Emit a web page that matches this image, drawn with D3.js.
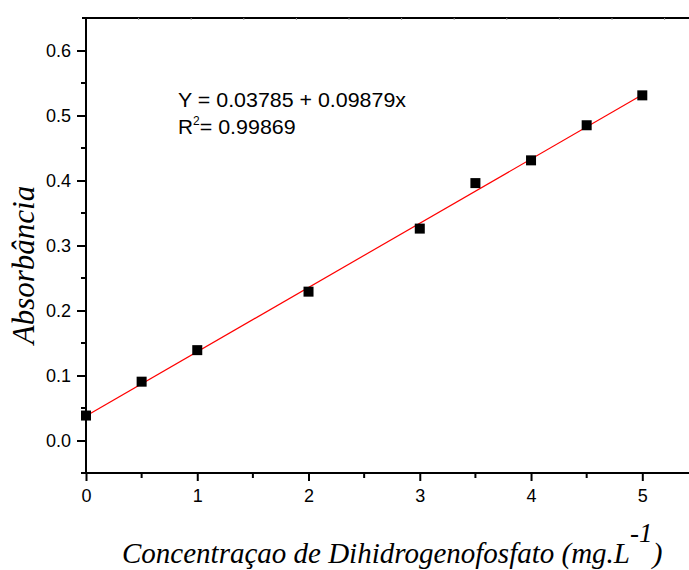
<!DOCTYPE html>
<html><head><meta charset="utf-8">
<script src="https://cdn.jsdelivr.net/npm/d3@7"></script>
<style>body{margin:0;background:#fff}svg{display:block}</style>
</head><body>
<script>
const concentration = [0, 0.5, 1, 2, 3, 3.5, 4, 4.5, 5];
const absorbance = [0.0384, 0.0905, 0.139, 0.229, 0.326, 0.396, 0.431, 0.485, 0.531];
const fitIntercept = 0.03785, fitSlope = 0.09879;
const xTicks = [0, 1, 2, 3, 4, 5];
const xMinorTicks = [0.5, 1.5, 2.5, 3.5, 4.5];
const yTicks = [0.0, 0.1, 0.2, 0.3, 0.4, 0.5, 0.6];
const yMinorTicks = [-0.05, 0.05, 0.15, 0.25, 0.35, 0.45, 0.55];
const topTicks = [1,2,3,4,5,6,7,8,9,10,11];
const equationText = "Y = 0.03785 + 0.09879x";
const r2Value = "= 0.99869";
const xTitle = "Concentraçao de Dihidrogenofosfato (mg.L";
const yTitle = "Absorbância";

const W = 689, H = 570;
const mLeft = 86, mTop = 18, mBottom = 473, mRight = 720;
const svg = d3.select("body").append("svg").attr("width", W).attr("height", H);

const x = d3.scaleLinear().domain([0, 5]).range([mLeft, 642.3]);
const y = d3.scaleLinear().domain([-0.05, 0.65]).range([mBottom, mTop]);
const xTop = d3.scaleLinear().domain([0, 1]).range([mLeft, mLeft + 52.6]);

// top frame line with faint ticks
svg.append("line").attr("x1", mLeft - 4).attr("x2", mRight).attr("y1", mTop).attr("y2", mTop)
  .attr("stroke", "#000").attr("stroke-width", 2);
svg.append("g").selectAll("line").data(topTicks).join("line")
  .attr("x1", d => xTop(d)).attr("x2", d => xTop(d)).attr("y1", mTop).attr("y2", mTop + 2)
  .attr("stroke", "#999").attr("stroke-width", 1);

// bottom axis
const xAxis = d3.axisBottom(x).tickValues(xTicks).tickFormat(d3.format("d")).tickSize(8).tickSizeOuter(0);
const gx = svg.append("g").attr("transform", `translate(0,${mBottom})`).call(xAxis);
gx.select(".domain").remove();
gx.selectAll(".tick line").attr("stroke-width", 2);
gx.selectAll(".tick text").attr("font-family", "Liberation Sans, Arial, sans-serif").attr("font-size", 18).attr("dy", "1.0em").attr("fill", "#000");
svg.append("g").selectAll("line").data(xMinorTicks).join("line")
  .attr("x1", d => x(d)).attr("x2", d => x(d)).attr("y1", mBottom).attr("y2", mBottom + 5)
  .attr("stroke", "#000").attr("stroke-width", 2);
svg.append("line").attr("x1", mLeft - 1).attr("x2", mRight).attr("y1", mBottom).attr("y2", mBottom)
  .attr("stroke", "#000").attr("stroke-width", 2);

// left axis
const yAxis = d3.axisLeft(y).tickValues(yTicks).tickFormat(d3.format(".1f")).tickSize(9).tickSizeOuter(0);
const gy = svg.append("g").attr("transform", `translate(${mLeft},0)`).call(yAxis);
gy.select(".domain").remove();
gy.selectAll(".tick line").attr("stroke-width", 2);
gy.selectAll(".tick text").attr("font-family", "Liberation Sans, Arial, sans-serif").attr("font-size", 18).attr("x", -15).attr("fill", "#000");
svg.append("g").selectAll("line").data(yMinorTicks).join("line")
  .attr("x1", mLeft).attr("x2", mLeft - 5).attr("y1", d => y(d)).attr("y2", d => y(d))
  .attr("stroke", "#000").attr("stroke-width", 2);
svg.append("line").attr("x1", mLeft).attr("x2", mLeft).attr("y1", mTop - 1).attr("y2", mBottom + 1)
  .attr("stroke", "#000").attr("stroke-width", 2);

// fit line
svg.append("line")
  .attr("x1", x(0)).attr("y1", y(fitIntercept))
  .attr("x2", x(5)).attr("y2", y(fitIntercept + 5 * fitSlope))
  .attr("stroke", "#ff0000").attr("stroke-width", 1.2);

// points
const s = 10;
svg.append("g").selectAll("rect").data(concentration).join("rect")
  .attr("x", (d, i) => x(d) - s / 2).attr("y", (d, i) => y(absorbance[i]) - s / 2)
  .attr("width", s).attr("height", s).attr("fill", "#000");

// equation text
const eq = svg.append("g").attr("font-family", "Liberation Sans, Arial, sans-serif").attr("font-size", 20).attr("fill", "#000");
eq.append("text").attr("x", 178).attr("y", 107).attr("textLength", 228).attr("lengthAdjust", "spacingAndGlyphs").text(equationText);
const r2 = eq.append("text").attr("x", 178).attr("y", 134);
r2.append("tspan").attr("textLength", 15).attr("lengthAdjust", "spacingAndGlyphs").text("R");
r2.append("tspan").attr("font-size", 12).attr("dy", -9).text("2");
r2.append("tspan").attr("dy", 9).attr("textLength", 96).attr("lengthAdjust", "spacingAndGlyphs").text(r2Value);

// axis titles
const xt = svg.append("text").attr("x", 122).attr("y", 563)
  .attr("font-family", "Liberation Serif, Times New Roman, serif").attr("font-style", "italic")
  .attr("font-size", 30).attr("fill", "#000");
xt.append("tspan").attr("textLength", 508).attr("lengthAdjust", "spacingAndGlyphs").text(xTitle);
xt.append("tspan").attr("dy", -21).attr("font-size", 27).text("-1");
xt.append("tspan").attr("dy", 21).text(")");

svg.append("text").attr("transform", "translate(34,265) rotate(-90)")
  .attr("text-anchor", "middle")
  .attr("font-family", "Liberation Serif, Times New Roman, serif").attr("font-style", "italic")
  .attr("font-size", 31).attr("fill", "#000").text(yTitle);
</script>
</body></html>
